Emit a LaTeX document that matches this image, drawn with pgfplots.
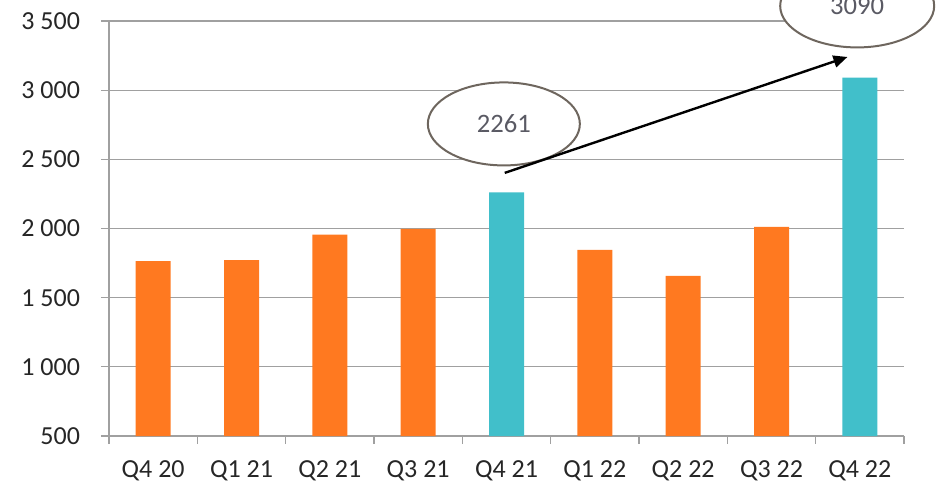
\documentclass[border=0pt]{standalone}
\usepackage{pgfplots}
\pgfplotsset{compat=1.18}
\usepackage{fontspec}
\setmainfont{Carlito}
\usetikzlibrary{arrows.meta}
\definecolor{barorange}{RGB}{255,121,32}
\definecolor{barteal}{RGB}{65,191,202}
\definecolor{gridgray}{RGB}{160,160,160}
\definecolor{labgray}{RGB}{38,38,38}
\definecolor{ellgray}{RGB}{110,102,94}
\definecolor{elltext}{RGB}{90,90,100}
\begin{document}
\fontsize{13}{15}\selectfont
\begin{tikzpicture}
\clip (0,0) rectangle (468pt,241.5pt);
\begin{axis}[
  at={(54.5pt,23.5pt)}, anchor=south west,
  scale only axis, width=397.5pt, height=207.5pt,
  xmin=-0.5, xmax=8.5, ymin=500, ymax=3500,
  axis x line*=bottom, axis y line*=left,
  axis line style={draw=gridgray, line width=0.6pt},
  ybar, bar width=17.5pt, bar shift=0pt,
  clip mode=individual,
  xtick={0,...,8},
  xticklabels={Q4 20,Q1 21,Q2 21,Q3 21,Q4 21,Q1 22,Q2 22,Q3 22,Q4 22},
  major x tick style={draw=none},
  minor xtick={-0.5,0.5,...,8.5},
  minor x tick style={draw=gridgray, line width=0.6pt},
  minor tick length=4pt,
  ytick={500,1000,...,3500},
  major y tick style={draw=gridgray, line width=0.6pt},
  major tick length=4pt,
  tick align=outside,
  ymajorgrids, grid style={draw=gridgray, line width=0.6pt},
  /pgf/number format/assume math mode=true,
  /pgf/number format/1000 sep={\ },
  ticklabel style={font=\fontsize{13}{15}\selectfont, text=labgray},
  xticklabel style={yshift=-4pt},
  yticklabel style={xshift=-6pt},
]
\addplot[fill=barorange, draw=none] coordinates {(0,1765) (1,1772) (2,1955) (3,1997) (5,1845) (6,1657) (7,2011)};
\addplot[fill=barteal, draw=none] coordinates {(4,2261) (8,3090)};
\draw[ellgray, line width=1pt, fill=white] (axis cs:3.97,2756) ellipse [x radius=38pt, y radius=20.75pt];
\node[text=elltext, font=\fontsize{13.3}{15}\selectfont] at (axis cs:3.97,2756) {2261};
\draw[ellgray, line width=1pt, fill=white] (axis cs:7.97,3609) ellipse [x radius=38.5pt, y radius=20.75pt];
\node[text=elltext, font=\fontsize{13.3}{15}\selectfont] at (axis cs:7.97,3609) {3090};
\draw[black, line width=1.2pt, -{Triangle[length=7pt,width=6pt]}] (axis cs:3.98,2402) -- (axis cs:7.86,3240);
\end{axis}
\end{tikzpicture}
\end{document}
